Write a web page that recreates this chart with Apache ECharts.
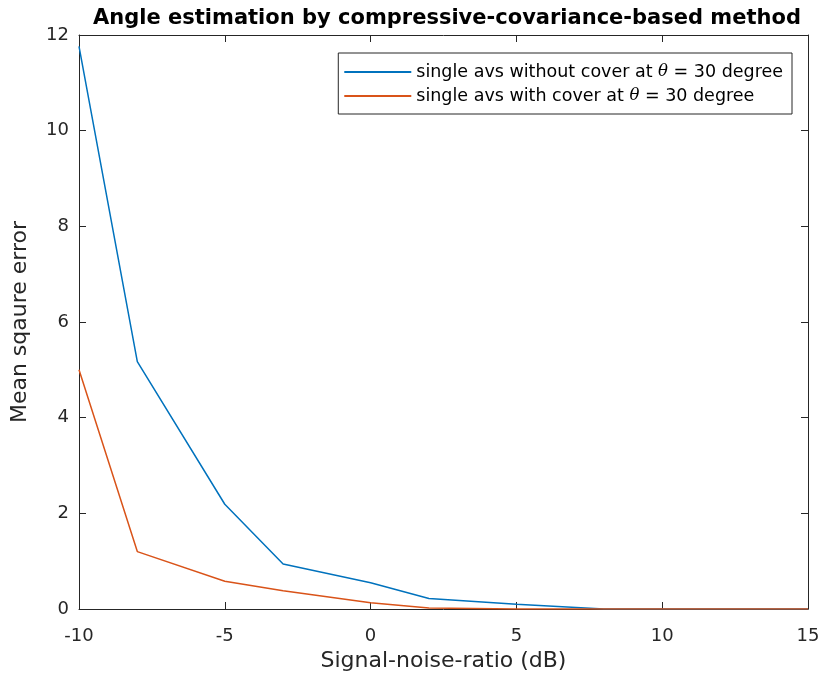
<!DOCTYPE html>
<html>
<head>
<meta charset="utf-8">
<script src="https://cdn.jsdelivr.net/npm/echarts@6/dist/echarts.min.js"></script>
<style>html,body{margin:0;padding:0;background:#fff}#c{width:825px;height:686px}</style>
</head>
<body>
<div id="c"></div>
<script>
const snr = [-10, -8, -5, -3, 0, 2, 5, 8, 10, 15];
const mseWithout = [11.76, 5.17, 2.19, 0.94, 0.55, 0.22, 0.10, 0.0, 0.0, 0.0];
const mseWith = [5.0, 1.2, 0.58, 0.38, 0.13, 0.02, 0.0, 0.0, 0.0, 0.0];
const names = ['single avs without cover at θ = 30 degree', 'single avs with cover at θ = 30 degree'];
const xTicks = [-10, -5, 0, 5, 10, 15];
const yTicks = [0, 2, 4, 6, 8, 10, 12];

const chart = echarts.init(document.getElementById('c'));
const axisCol = '#262626';
const font = '"DejaVu Sans", "Liberation Sans", Arial, sans-serif';
function pairs(xs, ys){ return xs.map((x,i)=>[x, ys[i]]); }
const hiddenAxis = (extra) => Object.assign({
  axisLine:{show:true, onZero:false, lineStyle:{color:axisCol, width:1}},
  axisTick:{show:true, inside:true, length:7, lineStyle:{color:axisCol}},
  axisLabel:{show:false}, splitLine:{show:false}
}, extra);

chart.setOption({
  backgroundColor:'#fff',
  animation:false,
  title:{
    text:'Angle estimation by compressive-covariance-based method',
    left:442, top:3, textAlign:'center',
    textStyle:{fontFamily:font, fontSize:21, fontWeight:'bold', color:'#000'}
  },
  legend:{
    orient:'vertical', right:33, top:53,
    backgroundColor:'#fff', borderColor:axisCol, borderWidth:1,
    padding:[10,9,9,6], itemGap:6,
    itemWidth:67, itemHeight:2,
    icon:'rect',
    formatter: function(n){ return n.replace('θ', '{i|θ}'); },
    textStyle:{fontFamily:font, fontSize:17.5, color:'#000',
      rich:{i:{fontStyle:'italic', fontFamily:'"DejaVu Serif", serif', fontSize:16.5, color:'#000'}}},
    data:names
  },
  grid:{left:79, right:17, top:35, bottom:77, containLabel:false},
  xAxis:[{
    type:'value', min:-10, max:15, interval:5,
    name:'Signal-noise-ratio (dB)', nameLocation:'middle', nameGap:41,
    nameTextStyle:{fontFamily:font, fontSize:22, color:axisCol},
    axisLine:{show:true, onZero:false, lineStyle:{color:axisCol, width:1}},
    axisTick:{show:true, inside:true, length:7, lineStyle:{color:axisCol}},
    axisLabel:{fontFamily:font, fontSize:18, color:axisCol, margin:18},
    splitLine:{show:false}
  }, hiddenAxis({type:'value', position:'top', min:-10, max:15, interval:5})],
  yAxis:[{
    type:'value', min:0, max:12, interval:2,
    name:'Mean sqaure error', nameLocation:'middle', nameGap:48,
    nameTextStyle:{fontFamily:font, fontSize:22, color:axisCol},
    axisLine:{show:true, onZero:false, lineStyle:{color:axisCol, width:1}},
    axisTick:{show:true, inside:true, length:7, lineStyle:{color:axisCol}},
    axisLabel:{fontFamily:font, fontSize:18, color:axisCol, margin:10},
    splitLine:{show:false}
  }, hiddenAxis({type:'value', position:'right', min:0, max:12, interval:2})],
  series:[
    {name:names[0], type:'line', data:pairs(snr, mseWithout), showSymbol:false,
      lineStyle:{color:'#0072BD', width:1.5}, itemStyle:{color:'#0072BD'}},
    {name:names[1], type:'line', data:pairs(snr, mseWith), showSymbol:false,
      lineStyle:{color:'#D95319', width:1.5}, itemStyle:{color:'#D95319'}}
  ]
});
</script>
</body>
</html>
